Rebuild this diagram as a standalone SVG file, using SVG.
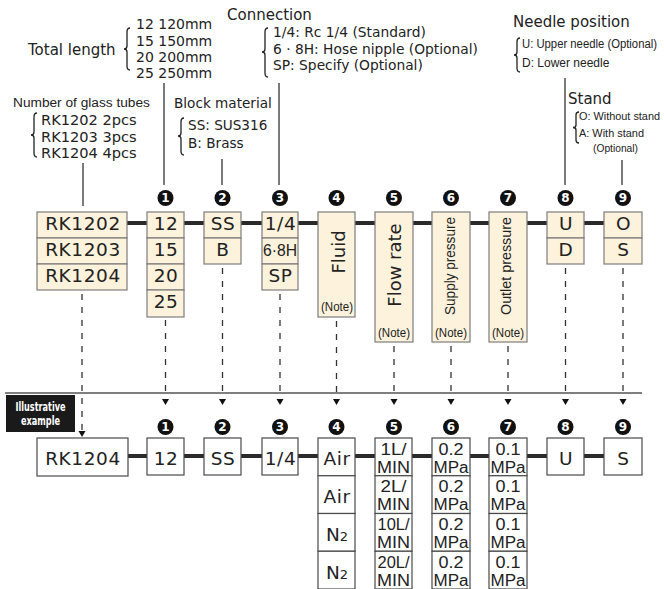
<svg xmlns="http://www.w3.org/2000/svg" width="664" height="589" viewBox="0 0 664 589">
<defs>
<style>
text{fill:#222;font-family:"DejaVu Sans","Liberation Sans",sans-serif}
.w{font-family:"DejaVu Sans",sans-serif}
.n{font-family:"Liberation Sans",Arial,sans-serif}
.t15{font-size:15px}
.t14{font-size:14px}
.t135{font-size:13.6px}
.bx{font-size:18.5px;text-anchor:middle;letter-spacing:0.6px}
.cb{fill:#fdf2dc;stroke:#7d7d7d;stroke-width:1.2}
.wb{fill:#fff;stroke:#4a4a4a;stroke-width:1.2}
.br{fill:none;stroke:#222;stroke-width:1.3}
.ln{stroke:#222;stroke-width:1.2}
.dash{stroke:#333;stroke-width:1.3;stroke-dasharray:6 7;fill:none}
.bar{stroke:#2a2a2a;stroke-width:4}
.num{fill:#111}
.numt{fill:#fff;font-family:"DejaVu Sans",sans-serif;font-weight:bold;font-size:12px;text-anchor:middle}
.note{font-family:"Liberation Sans",Arial,sans-serif;font-size:12px;text-anchor:middle}
.sm{font-family:"Liberation Sans",Arial,sans-serif;font-size:16px;text-anchor:middle}
</style>
</defs>

<!-- connectors -->
<g id="connectors">
  <line class="ln" x1="164" y1="83" x2="164" y2="185"/>
  <line class="ln" x1="83" y1="163" x2="83" y2="206"/>
  <line class="ln" x1="222" y1="159" x2="222" y2="185"/>
  <line class="ln" x1="279" y1="83" x2="279" y2="185"/>
  <line class="ln" x1="565" y1="78" x2="565" y2="185"/>
  <line class="ln" x1="622" y1="160" x2="622" y2="185"/>
  <line class="bar" x1="127" y1="223" x2="604" y2="223"/>
  <line class="bar" x1="128" y1="456" x2="604" y2="456"/>
  <line x1="5" y1="393" x2="642" y2="393" stroke="#555" stroke-width="1.5"/>
  <line class="dash" x1="82" y1="294" x2="82" y2="430"/>
  <line class="dash" x1="165.5" y1="320" x2="165.5" y2="398"/>
  <line class="dash" x1="222.5" y1="268" x2="222.5" y2="398"/>
  <line class="dash" x1="280" y1="294" x2="280" y2="398"/>
  <line class="dash" x1="336.5" y1="321" x2="336.5" y2="398"/>
  <line class="dash" x1="394" y1="346" x2="394" y2="398"/>
  <line class="dash" x1="451" y1="346" x2="451" y2="398"/>
  <line class="dash" x1="508" y1="346" x2="508" y2="398"/>
  <line class="dash" x1="565.5" y1="268" x2="565.5" y2="398"/>
  <line class="dash" x1="623" y1="268" x2="623" y2="398"/>
  <g fill="#111">
    <polygon points="78.5,431 85.5,431 82,437"/>
    <polygon points="162,399 169,399 165.5,405"/>
    <polygon points="219,399 226,399 222.5,405"/>
    <polygon points="276.5,399 283.5,399 280,405"/>
    <polygon points="333,399 340,399 336.5,405"/>
    <polygon points="390.5,399 397.5,399 394,405"/>
    <polygon points="447.5,399 454.5,399 451,405"/>
    <polygon points="504.5,399 511.5,399 508,405"/>
    <polygon points="562,399 569,399 565.5,405"/>
    <polygon points="619.5,399 626.5,399 623,405"/>
  </g>
</g>

<!-- option labels -->
<g id="label-length">
  <text class="w t15" x="28" y="55">Total length</text>
  <path class="br" d="M130,28 Q127,28 127,32 L127,46 Q127,49 124,49 Q127,49 127,52 L127,66 Q127,70 130,70"/>
  <text class="w t14" x="136" y="29">12 120mm</text>
  <text class="w t14" x="136" y="46">15 150mm</text>
  <text class="w t14" x="136" y="62">20 200mm</text>
  <text class="w t14" x="136" y="78">25 250mm</text>
</g>
<g id="label-tubes">
  <text class="n" x="13" y="107" font-size="13.7">Number of glass tubes</text>
  <path class="br" d="M37,113 Q34,113 34,117 L34,132 Q34,135 31,135 Q34,135 34,138 L34,153 Q34,157 37,157"/>
  <text class="w" x="41" y="125" font-size="14.6">RK1202 2pcs</text>
  <text class="w" x="41" y="141.5" font-size="14.6">RK1203 3pcs</text>
  <text class="w" x="41" y="158" font-size="14.6">RK1204 4pcs</text>
</g>
<g id="label-material">
  <text class="w t135" x="174" y="108">Block material</text>
  <path class="br" d="M184,118 Q181,118 181,122 L181,133 Q181,136 178,136 Q181,136 181,139 L181,151 Q181,155 184,155"/>
  <text class="w t135" x="188" y="130">SS: SUS316</text>
  <text class="w t135" x="188" y="148">B: Brass</text>
</g>
<g id="label-connection">
  <text class="w t15" x="227" y="20">Connection</text>
  <path class="br" d="M268,28 Q265,28 265,32 L265,49 Q265,52 262,52 Q265,52 265,55 L265,73 Q265,77 268,77"/>
  <text class="w" x="273" y="37" font-size="13.8">1/4: Rc 1/4 (Standard)</text>
  <text class="w" x="273" y="54" font-size="13.8">6 · 8H: Hose nipple (Optional)</text>
  <text class="w" x="273" y="70" font-size="13.8">SP: Specify (Optional)</text>
</g>
<g id="label-needle">
  <text class="w t15" x="513" y="26.5">Needle position</text>
  <path class="br" d="M520,38 Q517,38 517,42 L517,52 Q517,55 514,55 Q517,55 517,58 L517,68 Q517,72 520,72"/>
  <text class="n" x="522" y="48" font-size="12" textLength="135" lengthAdjust="spacingAndGlyphs">U: Upper needle (Optional)</text>
  <text class="n" x="522" y="67" font-size="12">D: Lower needle</text>
</g>
<g id="label-stand">
  <text class="w t15" x="568" y="104">Stand</text>
  <path class="br" d="M579,112 Q576,112 576,115 L576,125 Q576,127.5 573,127.5 Q576,127.5 576,130 L576,140 Q576,143 579,143"/>
  <text class="n" x="579" y="120" font-size="11" textLength="81" lengthAdjust="spacingAndGlyphs">O: Without stand</text>
  <text class="n" x="579" y="136.5" font-size="11" textLength="65" lengthAdjust="spacingAndGlyphs">A: With stand</text>
  <text class="n" x="593" y="152" font-size="11" textLength="45" lengthAdjust="spacingAndGlyphs">(Optional)</text>
</g>

<!-- top number markers -->
<g id="markers-top">
  <circle class="num" cx="165.5" cy="198" r="8"/><text class="numt" x="165.5" y="202.3">1</text>
  <circle class="num" cx="222.5" cy="198" r="8"/><text class="numt" x="222.5" y="202.3">2</text>
  <circle class="num" cx="280" cy="198" r="8"/><text class="numt" x="280" y="202.3">3</text>
  <circle class="num" cx="336.5" cy="198" r="8"/><text class="numt" x="336.5" y="202.3">4</text>
  <circle class="num" cx="394" cy="198" r="8"/><text class="numt" x="394" y="202.3">5</text>
  <circle class="num" cx="451" cy="198" r="8"/><text class="numt" x="451" y="202.3">6</text>
  <circle class="num" cx="508" cy="198" r="8"/><text class="numt" x="508" y="202.3">7</text>
  <circle class="num" cx="565.5" cy="198" r="8"/><text class="numt" x="565.5" y="202.3">8</text>
  <circle class="num" cx="623" cy="198" r="8"/><text class="numt" x="623" y="202.3">9</text>
</g>

<!-- top code boxes -->
<g id="box-model">
  <rect class="cb" x="37" y="212" width="90" height="26"/>
  <rect class="cb" x="37" y="238" width="90" height="26"/>
  <rect class="cb" x="37" y="264" width="90" height="26"/>
  <text class="w bx" x="83" y="230" letter-spacing="1.8">RK1202</text>
  <text class="w bx" x="83" y="256" letter-spacing="1.8">RK1203</text>
  <text class="w bx" x="83" y="282" letter-spacing="1.8">RK1204</text>
</g>
<g id="box-length">
  <rect class="cb" x="147" y="212" width="37" height="26"/>
  <rect class="cb" x="147" y="238" width="37" height="26"/>
  <rect class="cb" x="147" y="264" width="37" height="26"/>
  <rect class="cb" x="147" y="290" width="37" height="27"/>
  <text class="w bx" x="166" y="230">12</text>
  <text class="w bx" x="166" y="256">15</text>
  <text class="w bx" x="166" y="282">20</text>
  <text class="w bx" x="166" y="308">25</text>
</g>
<g id="box-material">
  <rect class="cb" x="204" y="212" width="37" height="26"/>
  <rect class="cb" x="204" y="238" width="37" height="26"/>
  <text class="w bx" x="223" y="230">SS</text>
  <text class="w bx" x="223" y="256">B</text>
</g>
<g id="box-connection">
  <rect class="cb" x="262" y="212" width="36" height="26"/>
  <rect class="cb" x="262" y="238" width="36" height="26"/>
  <rect class="cb" x="262" y="264" width="36" height="26"/>
  <text class="w bx" x="280.5" y="230">1/4</text>
  <text class="n" x="280" y="256" font-size="17" text-anchor="middle" textLength="34" lengthAdjust="spacingAndGlyphs">6·8H</text>
  <text class="w bx" x="280.5" y="282">SP</text>
</g>
<g id="box-fluid">
  <rect class="cb" x="318" y="212" width="37" height="105"/>
  <text class="w" font-size="18" text-anchor="middle" transform="translate(344.5,252) rotate(-90)">Fluid</text>
  <text class="note" x="337" y="311" textLength="32" lengthAdjust="spacingAndGlyphs">(Note)</text>
</g>
<g id="box-flow">
  <rect class="cb" x="375" y="212" width="38" height="130"/>
  <text class="w" font-size="18" text-anchor="middle" transform="translate(400.5,265) rotate(-90)">Flow rate</text>
  <text class="note" x="394" y="337" textLength="32" lengthAdjust="spacingAndGlyphs">(Note)</text>
</g>
<g id="box-supply">
  <rect class="cb" x="432" y="212" width="38" height="130"/>
  <text class="n" font-size="15" text-anchor="middle" textLength="98" lengthAdjust="spacingAndGlyphs" transform="translate(454.5,266) rotate(-90)">Supply pressure</text>
  <text class="note" x="451" y="337" textLength="32" lengthAdjust="spacingAndGlyphs">(Note)</text>
</g>
<g id="box-outlet">
  <rect class="cb" x="489" y="212" width="38" height="130"/>
  <text class="n" font-size="15" text-anchor="middle" textLength="98" lengthAdjust="spacingAndGlyphs" transform="translate(511,266) rotate(-90)">Outlet pressure</text>
  <text class="note" x="508" y="337" textLength="32" lengthAdjust="spacingAndGlyphs">(Note)</text>
</g>
<g id="box-needle">
  <rect class="cb" x="547" y="212" width="37" height="26"/>
  <rect class="cb" x="547" y="238" width="37" height="26"/>
  <text class="w bx" x="566" y="230">U</text>
  <text class="w bx" x="566" y="256">D</text>
</g>
<g id="box-stand">
  <rect class="cb" x="604" y="212" width="38" height="26"/>
  <rect class="cb" x="604" y="238" width="38" height="26"/>
  <text class="w bx" x="623.5" y="230">O</text>
  <text class="w bx" x="623.5" y="256">S</text>
</g>

<!-- illustrative example tag -->
<g id="tag-example">
  <rect x="6" y="395" width="69" height="37" fill="#1a1a1a"/>
  <text x="40.5" y="411" font-family="Liberation Sans,Arial,sans-serif" font-weight="bold" font-size="12.5" style="fill:#fff" text-anchor="middle" textLength="50" lengthAdjust="spacingAndGlyphs">Illustrative</text>
  <text x="40.5" y="425" font-family="Liberation Sans,Arial,sans-serif" font-weight="bold" font-size="12.5" style="fill:#fff" text-anchor="middle" textLength="39" lengthAdjust="spacingAndGlyphs">example</text>
</g>

<!-- bottom number markers -->
<g id="markers-bottom">
  <circle class="num" cx="165.5" cy="427" r="8"/><text class="numt" x="165.5" y="431.3">1</text>
  <circle class="num" cx="222.5" cy="427" r="8"/><text class="numt" x="222.5" y="431.3">2</text>
  <circle class="num" cx="280" cy="427" r="8"/><text class="numt" x="280" y="431.3">3</text>
  <circle class="num" cx="336.5" cy="427" r="8"/><text class="numt" x="336.5" y="431.3">4</text>
  <circle class="num" cx="394" cy="427" r="8"/><text class="numt" x="394" y="431.3">5</text>
  <circle class="num" cx="451" cy="427" r="8"/><text class="numt" x="451" y="431.3">6</text>
  <circle class="num" cx="508" cy="427" r="8"/><text class="numt" x="508" y="431.3">7</text>
  <circle class="num" cx="565.5" cy="427" r="8"/><text class="numt" x="565.5" y="431.3">8</text>
  <circle class="num" cx="623" cy="427" r="8"/><text class="numt" x="623" y="431.3">9</text>
</g>

<!-- bottom example boxes -->
<g id="ex-model">
  <rect class="wb" x="37" y="438" width="91" height="38"/>
  <text class="w bx" x="83" y="465" letter-spacing="1.8">RK1204</text>
</g>
<g id="ex-length">
  <rect class="wb" x="147" y="438" width="37" height="37"/>
  <text class="w bx" x="166" y="465">12</text>
</g>
<g id="ex-material">
  <rect class="wb" x="204" y="438" width="37" height="37"/>
  <text class="w bx" x="223" y="465">SS</text>
</g>
<g id="ex-connection">
  <rect class="wb" x="262" y="438" width="36" height="37"/>
  <text class="w bx" x="280.5" y="465">1/4</text>
</g>
<g id="ex-fluid">
  <rect class="wb" x="318" y="438" width="37" height="37.75"/>
  <rect class="wb" x="318" y="475.75" width="37" height="37.75"/>
  <rect class="wb" x="318" y="513.5" width="37" height="37.75"/>
  <rect class="wb" x="318" y="551.25" width="37" height="37.75"/>
  <text class="w bx" x="337" y="465">Air</text>
  <text class="w bx" x="337" y="503">Air</text>
  <text class="w" x="337" y="541" text-anchor="middle" font-size="18.5">N<tspan font-size="13">2</tspan></text>
  <text class="w" x="337" y="579" text-anchor="middle" font-size="18.5">N<tspan font-size="13">2</tspan></text>
</g>
<g id="ex-flow">
  <rect class="wb" x="375" y="438" width="37" height="37.75"/>
  <rect class="wb" x="375" y="475.75" width="37" height="37.75"/>
  <rect class="wb" x="375" y="513.5" width="37" height="37.75"/>
  <rect class="wb" x="375" y="551.25" width="37" height="37.75"/>
  <text class="sm" x="393.5" y="454.5" textLength="26" lengthAdjust="spacingAndGlyphs">1L/</text>
  <text class="sm" x="393.5" y="472.5" textLength="33" lengthAdjust="spacingAndGlyphs">MIN</text>
  <text class="sm" x="393.5" y="492.25" textLength="26" lengthAdjust="spacingAndGlyphs">2L/</text>
  <text class="sm" x="393.5" y="510.25" textLength="33" lengthAdjust="spacingAndGlyphs">MIN</text>
  <text class="sm" x="393.5" y="530" textLength="32" lengthAdjust="spacingAndGlyphs">10L/</text>
  <text class="sm" x="393.5" y="548" textLength="33" lengthAdjust="spacingAndGlyphs">MIN</text>
  <text class="sm" x="393.5" y="567.75" textLength="32" lengthAdjust="spacingAndGlyphs">20L/</text>
  <text class="sm" x="393.5" y="585.75" textLength="33" lengthAdjust="spacingAndGlyphs">MIN</text>
</g>
<g id="ex-supply">
  <rect class="wb" x="432" y="438" width="38" height="37.75"/>
  <rect class="wb" x="432" y="475.75" width="38" height="37.75"/>
  <rect class="wb" x="432" y="513.5" width="38" height="37.75"/>
  <rect class="wb" x="432" y="551.25" width="38" height="37.75"/>
  <text class="sm" x="451" y="454.5" textLength="25" lengthAdjust="spacingAndGlyphs">0.2</text>
  <text class="sm" x="451" y="472.5" textLength="35" lengthAdjust="spacingAndGlyphs">MPa</text>
  <text class="sm" x="451" y="492.25" textLength="25" lengthAdjust="spacingAndGlyphs">0.2</text>
  <text class="sm" x="451" y="510.25" textLength="35" lengthAdjust="spacingAndGlyphs">MPa</text>
  <text class="sm" x="451" y="530" textLength="25" lengthAdjust="spacingAndGlyphs">0.2</text>
  <text class="sm" x="451" y="548" textLength="35" lengthAdjust="spacingAndGlyphs">MPa</text>
  <text class="sm" x="451" y="567.75" textLength="25" lengthAdjust="spacingAndGlyphs">0.2</text>
  <text class="sm" x="451" y="585.75" textLength="35" lengthAdjust="spacingAndGlyphs">MPa</text>
</g>
<g id="ex-outlet">
  <rect class="wb" x="489" y="438" width="38" height="37.75"/>
  <rect class="wb" x="489" y="475.75" width="38" height="37.75"/>
  <rect class="wb" x="489" y="513.5" width="38" height="37.75"/>
  <rect class="wb" x="489" y="551.25" width="38" height="37.75"/>
  <text class="sm" x="508" y="454.5" textLength="25" lengthAdjust="spacingAndGlyphs">0.1</text>
  <text class="sm" x="508" y="472.5" textLength="35" lengthAdjust="spacingAndGlyphs">MPa</text>
  <text class="sm" x="508" y="492.25" textLength="25" lengthAdjust="spacingAndGlyphs">0.1</text>
  <text class="sm" x="508" y="510.25" textLength="35" lengthAdjust="spacingAndGlyphs">MPa</text>
  <text class="sm" x="508" y="530" textLength="25" lengthAdjust="spacingAndGlyphs">0.1</text>
  <text class="sm" x="508" y="548" textLength="35" lengthAdjust="spacingAndGlyphs">MPa</text>
  <text class="sm" x="508" y="567.75" textLength="25" lengthAdjust="spacingAndGlyphs">0.1</text>
  <text class="sm" x="508" y="585.75" textLength="35" lengthAdjust="spacingAndGlyphs">MPa</text>
</g>
<g id="ex-needle">
  <rect class="wb" x="547" y="438" width="37" height="37"/>
  <text class="w bx" x="566" y="465">U</text>
</g>
<g id="ex-stand">
  <rect class="wb" x="604" y="438" width="38" height="37"/>
  <text class="w bx" x="623.5" y="465">S</text>
</g>
</svg>
